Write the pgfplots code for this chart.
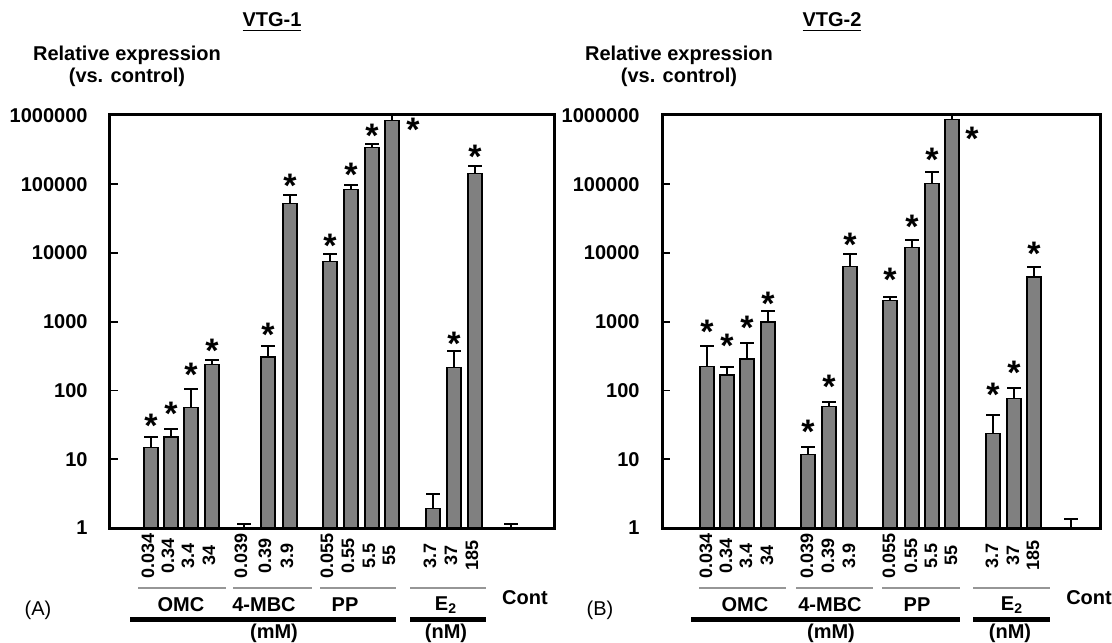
\documentclass[border=0pt]{standalone}
\usepackage{pgfplots}
\pgfplotsset{compat=1.18}
\usepackage{pgfplotstable}
\usepackage{fontspec}
\setmainfont{Liberation Sans}

\definecolor{bargray}{RGB}{128,128,128}
\definecolor{linegray}{RGB}{150,150,150}

% x = pixel position of the bar measured from the left side of the box
\pgfplotstableread{
x y ep
41 15 6
61 21 7
81 57 49
102 237 43
134 1.0 0.15
158 306 138
180 53000 16000
220 7460 2210
241 83000 15000
262 345000 35000
282 850000 150000
323 1.94 1.16
344 218 152
365 142000 45000
401 1.0 0.15
}\barsA

\pgfplotstableread{
x y
41 39
61 58
81 219
102 480
158 835
180 120000
220 16400
241 176000
262 640000
303 780000
344 614
365 318000
}\starsA

\pgfplotstableread{
x y ep
45 222 228
65 168 50
85 288 202
106 990 420
146 11.8 3.2
167 58 11
188 6400 3300
228 2030 270
250 12150 3550
270 102000 51000
290 870000 130000
331 23.7 20.3
352 77 31
372 4480 1820
409 1.0 0.36
}\barsB

\pgfplotstableread{
x y
45 904
65 578
85 1045
106 2340
146 32.6
167 147
188 16700
228 5190
250 30900
270 290000
310 590000
331 111
352 229
372 12600
}\starsB

\begin{document}
\begin{tikzpicture}

% ---------- Panel A ----------
\begin{axis}[ymode=log, scale only axis, anchor=south west, at={(55pt,-264pt)},
  width=222pt, height=207pt, xmin=0, xmax=444, ymin=1, ymax=1.05e6, clip=false,
  axis line style={line width=1.5pt},
  ytick={1,10,100,1000,10000,100000,1000000},
  yticklabels={1,10,100,1000,10000,100000,1000000},
  yminorticks=false, ytick pos=left, tick align=inside, major tick length=4pt,
  ytick style={line width=0.9pt, black},
  yticklabel style={font=\bfseries\fontsize{10}{10}\selectfont, anchor=east, inner sep=0pt, xshift=-11pt},
  xtick style={draw=none},
  xticklabel style={rotate=90, anchor=center, inner sep=0pt, xshift=-13.8pt, yshift=1.5pt, font=\bfseries\fontsize{9}{9}\selectfont},
  xtick={41,61,81,102,134,158,180,220,241,262,282,323,344,365,401},
  xticklabels={0.034,0.34,3.4,34,0.039,0.39,3.9,0.055,0.55,5.5,55,3.7,37,185,{}}]
\addplot[ybar, bar width=14, bar shift=0pt, fill=bargray, draw=black, line width=0.6pt,
  error bars/y dir=plus, error bars/y explicit,
  error bars/error bar style={line width=1pt, black},
  error bars/error mark options={rotate=90, mark size=3.3pt, line width=1pt, black}]
  table[x=x,y=y,y error plus=ep]{\barsA};
\addplot[only marks, mark=none, nodes near coords={*},
  every node near coord/.style={font=\bfseries\fontsize{17}{17}\selectfont, anchor=center, yshift=-3.7pt, inner sep=0pt}]
  table[x=x,y=y]{\starsA};
\end{axis}

% ---------- Panel B ----------
\begin{axis}[ymode=log, scale only axis, anchor=south west, at={(331pt,-264pt)},
  width=219pt, height=207pt, xmin=0, xmax=438, ymin=1, ymax=1.05e6, clip=false,
  axis line style={line width=1.5pt},
  ytick={1,10,100,1000,10000,100000,1000000},
  yticklabels={1,10,100,1000,10000,100000,1000000},
  yminorticks=false, ytick pos=left, tick align=inside, major tick length=4pt,
  ytick style={line width=0.9pt, black},
  yticklabel style={font=\bfseries\fontsize{10}{10}\selectfont, anchor=east, inner sep=0pt, xshift=-11pt},
  xtick style={draw=none},
  xticklabel style={rotate=90, anchor=center, inner sep=0pt, xshift=-13.8pt, yshift=0.5pt, font=\bfseries\fontsize{9}{9}\selectfont},
  xtick={45,65,85,106,146,167,188,228,250,270,290,331,352,372,409},
  xticklabels={0.034,0.34,3.4,34,0.039,0.39,3.9,0.055,0.55,5.5,55,3.7,37,185,{}}]
\addplot[ybar, bar width=14, bar shift=0pt, fill=bargray, draw=black, line width=0.6pt,
  error bars/y dir=plus, error bars/y explicit,
  error bars/error bar style={line width=1pt, black},
  error bars/error mark options={rotate=90, mark size=3.3pt, line width=1pt, black}]
  table[x=x,y=y,y error plus=ep]{\barsB};
\addplot[only marks, mark=none, nodes near coords={*},
  every node near coord/.style={font=\bfseries\fontsize{17}{17}\selectfont, anchor=center, yshift=-3.7pt, inner sep=0pt}]
  table[x=x,y=y]{\starsB};
\end{axis}

% ---------- titles and annotations (pixel coordinates, y downwards) ----------
\begin{scope}[x=0.5pt,y=-0.5pt]
\useasboundingbox (0,0) rectangle (1112,642);
\tikzset{lab/.style={font=\bfseries\fontsize{10}{11}\selectfont, inner sep=0pt}}

\node[lab, anchor=base] at (272,27) {\underline{VTG-1}};
\node[lab, anchor=base] at (832,27) {\underline{VTG-2}};
\node[lab, align=center] at (127,66) {Relative expression\\(vs. control)};
\node[lab, align=center] at (679,66) {Relative expression\\(vs. control)};

% Panel A group annotations
\draw[linegray, line width=0.7pt] (138,588) -- (226,588);
\draw[linegray, line width=0.7pt] (233,588) -- (312,588);
\draw[linegray, line width=0.7pt] (320,588) -- (396,588);
\draw[linegray, line width=0.7pt] (410,588) -- (486,588);
\node[lab] at (181,605) {OMC};
\node[lab] at (264,605) {4-MBC};
\node[lab] at (345,605) {PP};
\node[lab] at (446,605) {E\textsubscript{2}};
\node[lab] at (525,598) {Cont};
\draw[black, line width=2.2pt] (130,619.5) -- (396,619.5);
\draw[black, line width=2.2pt] (410,619.5) -- (486,619.5);
\node[lab] at (274,633) {(mM)};
\node[lab] at (446,633) {(nM)};
\node[font=\fontsize{10}{11}\selectfont, inner sep=0pt] at (38,610) {(A)};

% Panel B group annotations
\draw[linegray, line width=0.7pt] (699,588) -- (786,588);
\draw[linegray, line width=0.7pt] (796,588) -- (873,588);
\draw[linegray, line width=0.7pt] (882,588) -- (960,588);
\draw[linegray, line width=0.7pt] (973,588) -- (1050,588);
\node[lab] at (745,605) {OMC};
\node[lab] at (830,605) {4-MBC};
\node[lab] at (917,605) {PP};
\node[lab] at (1012,605) {E\textsubscript{2}};
\node[lab] at (1089,598) {Cont};
\draw[black, line width=2.2pt] (691,619.5) -- (960,619.5);
\draw[black, line width=2.2pt] (973,619.5) -- (1050,619.5);
\node[lab] at (831,633) {(mM)};
\node[lab] at (1010,633) {(nM)};
\node[font=\fontsize{10}{11}\selectfont, inner sep=0pt] at (600,610) {(B)};
\end{scope}
\end{tikzpicture}
\end{document}
